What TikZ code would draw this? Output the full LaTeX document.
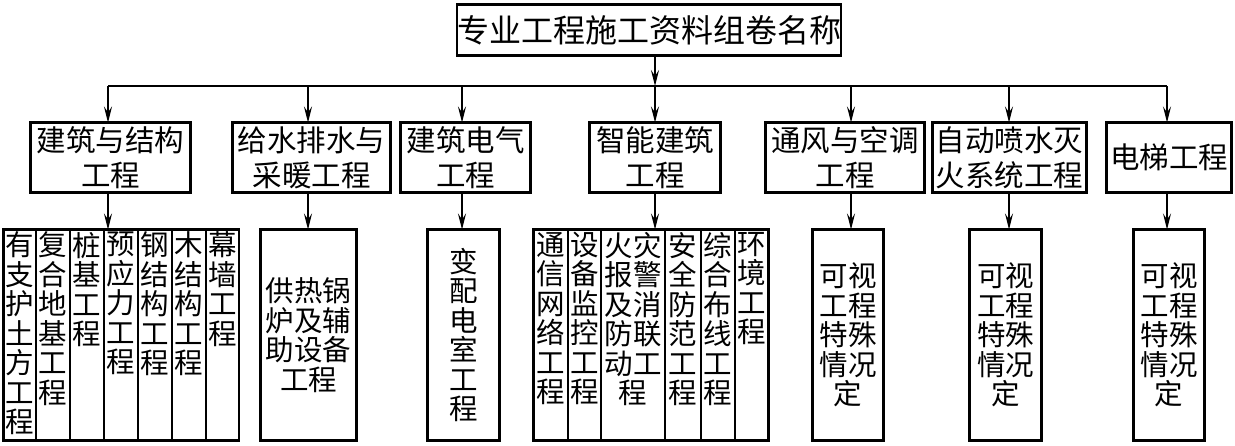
\documentclass[tikz,border=0pt]{standalone}
\usepackage{fontspec}
\newfontfamily\cjk{Noto Sans CJK SC}
\usetikzlibrary{arrows.meta}

\begin{document}
\begin{tikzpicture}[x=1pt, y=-1pt, every node/.style={font=\cjk},
	bx/.style={draw, line width=2.8pt, inner sep=0pt, outer sep=0pt, align=center},
	titlebox/.style={bx, font=\cjk\fontsize{32}{36}\selectfont},
	groupbox/.style={bx, minimum height=70, font=\cjk\fontsize{29.5}{35}\selectfont},
	itembox/.style={bx, minimum height=211, font=\cjk\fontsize{28.5}{29.5}\selectfont},
	colbox/.style={itembox, anchor=north west},
	arr/.style={line width=1.1pt, -{Stealth[length=16pt, width=8pt, inset=6pt]}}]
	\useasboundingbox (0,0) rectangle (1235,445);
	\node[titlebox, minimum width=369, minimum height=51] (title) at (649,30) {专业工程施工资料组卷名称};
	% second row
	\node[groupbox, minimum width=160] (b1) at (110.5,157.5) {建筑与结构\\工程};
	\node[groupbox, minimum width=158] (b2) at (311.5,157.5) {给水排水与\\采暖工程};
	\node[groupbox, minimum width=130] (b3) at (465.5,157.5) {建筑电气\\工程};
	\node[groupbox, minimum width=131] (b4) at (655,157.5) {智能建筑\\工程};
	\node[groupbox, minimum width=159] (b5) at (845,157.5) {通风与空调\\工程};
	\node[groupbox, minimum width=154] (b6) at (1009.5,157.5) {自动喷水灭\\火系统工程};
	\node[groupbox, minimum width=125] (b7) at (1169,157.5) {电梯工程};
	% third row, first group
	\node[colbox, minimum width=32.5] (g1a) at (3.5,229.5) {\parbox[t][206pt][t]{29pt}{\centering 有\\支\\护\\土\\方\\工\\程}};
	\node[colbox, minimum width=34] (g1b) at (36,229.5) {\parbox[t][206pt][t]{29pt}{\centering 复\\合\\地\\基\\工\\程}};
	\node[colbox, minimum width=34] (g1c) at (70,229.5) {\parbox[t][206pt][t]{29pt}{\centering 桩\\基\\工\\程}};
	\node[colbox, minimum width=34] (g1d) at (104,229.5) {\parbox[t][206pt][t]{29pt}{\centering 预\\应\\力\\工\\程}};
	\node[colbox, minimum width=34] (g1e) at (138,229.5) {\parbox[t][206pt][t]{29pt}{\centering 钢\\结\\构\\工\\程}};
	\node[colbox, minimum width=34] (g1f) at (172,229.5) {\parbox[t][206pt][t]{29pt}{\centering 木\\结\\构\\工\\程}};
	\node[colbox, minimum width=33] (g1g) at (206,229.5) {\parbox[t][206pt][t]{29pt}{\centering 幕\\墙\\工\\程}};
	\node[itembox, minimum width=96] (c2) at (308.5,335) {供热锅\\炉及辅\\助设备\\工程};
	\node[itembox, minimum width=72] (c3) at (463.5,335) {变\\配\\电\\室\\工\\程};
	% third row, second group
	\node[colbox, minimum width=34.5] (g4a) at (533.5,229.5) {\parbox[t][206pt][t]{29pt}{\centering 通\\信\\网\\络\\工\\程}};
	\node[colbox, minimum width=33] (g4b) at (568,229.5) {\parbox[t][206pt][t]{29pt}{\centering 设\\备\\监\\控\\工\\程}};
	\node[colbox, minimum width=64] (g4c) at (601,229.5) {\parbox[t][206pt][t]{58pt}{\centering 火灾\\报警\\及消\\防联\\动工\\程}};
	\node[colbox, minimum width=36] (g4d) at (665,229.5) {\parbox[t][206pt][t]{29pt}{\centering 安\\全\\防\\范\\工\\程}};
	\node[colbox, minimum width=34] (g4e) at (701,229.5) {\parbox[t][206pt][t]{29pt}{\centering 综\\合\\布\\线\\工\\程}};
	\node[colbox, minimum width=33.5] (g4f) at (735,229.5) {\parbox[t][206pt][t]{29pt}{\centering 环\\境\\工\\程}};
	\node[itembox, minimum width=71] (c5) at (848,335) {可视\\工程\\特殊\\情况\\定};
	\node[itembox, minimum width=72] (c6) at (1005.5,335) {可视\\工程\\特殊\\情况\\定};
	\node[itembox, minimum width=71] (c7) at (1169,335) {可视\\工程\\特殊\\情况\\定};
	% connectors
	\foreach \i/\x in {1/108, 2/308, 3/462, 4/655, 5/851, 6/1009, 7/1167} {\coordinate (t\i) at (\x,86);}
	\draw[arr] (title.south -| t4) -- (t4);
	\draw[line width=1.1pt] (t1) -- (t7);
	\foreach \i in {1,...,7} {\draw[arr] (t\i) -- (t\i |- b\i.north);}
	\foreach \i/\c in {1/g1d, 2/c2, 3/c3, 4/g4c, 5/c5, 6/c6, 7/c7} {\draw[arr] (t\i |- b\i.south) -- (t\i |- \c.north);}
\end{tikzpicture}
\end{document}
